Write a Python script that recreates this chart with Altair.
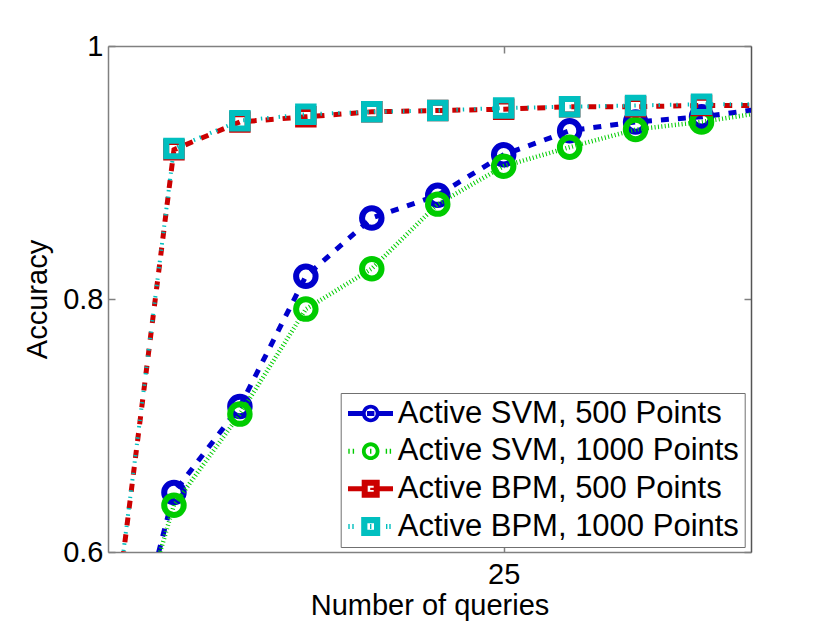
import altair as alt
import pandas as pd

# ---------------- data ----------------
queries = [1, 5, 9, 13, 17, 21, 25, 29, 33, 37, 41]
svm_500 = [0.443, 0.647, 0.715, 0.818, 0.864, 0.882, 0.914, 0.933, 0.940, 0.944, 0.951]
svm_1000 = [0.461, 0.637, 0.709, 0.792, 0.824, 0.875, 0.905, 0.920, 0.934, 0.940, 0.948]
bpm_500 = [0.501, 0.918, 0.940, 0.944, 0.948, 0.949, 0.950, 0.952, 0.952, 0.953, 0.953]
bpm_1000 = [0.503, 0.919, 0.941, 0.946, 0.948, 0.949, 0.951, 0.952, 0.953, 0.954, 0.954]
series_names = [
    "Active SVM, 500 Points",
    "Active SVM, 1000 Points",
    "Active BPM, 500 Points",
    "Active BPM, 1000 Points",
]
x_ticks = [25]
y_ticks = [0.6, 0.8, 1.0]
x_domain = [1, 40]
y_domain = [0.6, 1.0]

# ---------------- styles ----------------
FONT = "Liberation Sans"
AX_GRAY = "#808080"
colors = ["#0000CC", "#00CC00", "#CC0000", "#00BFBF"]
line_widths = [5, 4.5, 5, 4]
line_dashes = [[8, 9], [1, 2.4], [8, 9], [1.4, 5, 1.4, 10]]
marker_shapes = ["circle", "circle", "square", "square"]
marker_sizes = [380, 380, 240, 240]
marker_strokes = [6, 6, 6, 6]

W, H = 643, 506

rows = []
for name, vals in zip(series_names, [svm_500, svm_1000, bpm_500, bpm_1000]):
    for q, v in zip(queries, vals):
        rows.append({"queries": q, "accuracy": v, "series": name})
df = pd.DataFrame(rows)

xs = alt.Scale(domain=x_domain, nice=False, zero=False)
ys = alt.Scale(domain=y_domain, nice=False, zero=False)

# axis sets (MATLAB box with inward ticks)
main_x = alt.Axis(values=x_ticks, orient="bottom", ticks=False, tickSize=0, labelPadding=8,
                  labelFlush=False, title="Number of queries", titlePadding=2)
main_y = alt.Axis(values=y_ticks, orient="left", ticks=False, tickSize=0, labelPadding=5,
                  format="~g", title="Accuracy", titlePadding=10)
inner_bottom = alt.Axis(values=x_ticks, orient="top", offset=-H, labels=False, domain=False,
                        ticks=True, tickSize=7, title=None)
inner_left = alt.Axis(values=y_ticks, orient="right", offset=-W, labels=False, domain=False,
                      ticks=True, tickSize=7, title=None)
top_edge = alt.Axis(values=x_ticks, orient="bottom", offset=-H, labels=False, domain=True,
                    ticks=True, tickSize=7, title=None)
right_edge = alt.Axis(values=y_ticks, orient="left", offset=-W, labels=False, domain=True,
                      ticks=True, tickSize=7, title=None, domainColor="#555555")

axis_sets = [(main_x, main_y), (inner_bottom, inner_left), (top_edge, right_edge)]

layers = []
k = 0
for i, name in enumerate(series_names):
    base = alt.Chart(df).transform_filter(alt.datum.series == name)
    ax = axis_sets[k] if k < len(axis_sets) else (None, None)
    k += 1
    line = base.mark_line(color=colors[i], strokeWidth=line_widths[i], strokeDash=line_dashes[i],
                          clip=True).encode(
        x=alt.X("queries:Q", scale=xs, axis=ax[0]),
        y=alt.Y("accuracy:Q", scale=ys, axis=ax[1]),
    )
    ax = axis_sets[k] if k < len(axis_sets) else (None, None)
    k += 1
    pts = base.mark_point(shape=marker_shapes[i], size=marker_sizes[i], filled=False,
                          color=colors[i], strokeWidth=marker_strokes[i], opacity=1,
                          clip=True).encode(
        x=alt.X("queries:Q", scale=xs, axis=ax[0]),
        y=alt.Y("accuracy:Q", scale=ys, axis=ax[1]),
    )
    layers += [line, pts]

# ---------------- legend symbols (line sample + marker) as filled paths ----------------
LEG_FS = 31
U = LEG_FS / 2.0  # px per unit of a custom symbol path (sqrt(size)/2)


def f(v):
    return f"{v / U:.3f}"


def rect(x0, x1, hh):
    return f"M{f(x0)},{f(-hh)}H{f(x1)}V{f(hh)}H{f(x0)}Z"


def ring_circle(ro, ri):
    return (f"M{f(ro)},0A{f(ro)},{f(ro)} 0 1,1 {f(-ro)},0A{f(ro)},{f(ro)} 0 1,1 {f(ro)},0Z"
            f"M{f(ri)},0A{f(ri)},{f(ri)} 0 1,0 {f(-ri)},0A{f(ri)},{f(ri)} 0 1,0 {f(ri)},0Z")


def ring_square(ao, ai):
    return (f"M{f(-ao)},{f(-ao)}H{f(ao)}V{f(ao)}H{f(-ao)}Z"
            f"M{f(-ai)},{f(-ai)}V{f(ai)}H{f(ai)}V{f(-ai)}Z")


def ticks(xs_):
    return "".join(rect(x - 0.7, x + 0.7, 2.5) for x in xs_)


legend_paths = [
    rect(-22.7, -8, 2.5) + rect(-3.7, 3.7, 2.5) + rect(8, 22.3, 2.5) + ring_circle(8.8, 5),
    ticks([-21.7, -17.3, 0, 15.7, 19.7]) + ring_circle(8.8, 5),
    rect(-22.7, -8, 2.5) + rect(-0.5, 3.2, 1.2) + rect(8, 22.3, 2.5) + ring_square(9, 3),
    ticks([-21.7, -17.7, 0, 16, 19.3]) + ring_square(9.5, 3.3),
]

leg = alt.Legend(
    title=None, orient="none", legendX=232.7, legendY=347, direction="vertical",
    padding=5, fillColor="white", strokeColor="#707070", cornerRadius=0,
    symbolSize=LEG_FS * LEG_FS, symbolStrokeWidth=0, symbolOffset=9.5, symbolOpacity=1,
    labelOffset=11.5, labelFont=FONT, labelFontSize=LEG_FS, labelColor="black",
    labelLimit=0, rowPadding=5.67,
)

legend_df = pd.DataFrame({"series": series_names})
legend_layer = alt.Chart(legend_df).transform_filter("false").mark_point(
    filled=True, opacity=1
).encode(
    shape=alt.Shape("series:N", scale=alt.Scale(domain=series_names, range=legend_paths), legend=leg),
    fill=alt.Fill("series:N", scale=alt.Scale(domain=series_names, range=colors), legend=leg),
)
layers.append(legend_layer)

chart = (
    alt.layer(*layers)
    .resolve_axis(x="independent", y="independent")
    .properties(
        width=W, height=H,
        autosize=alt.AutoSizeParams(type="none"),
        padding={"left": 100, "top": 38, "right": 30, "bottom": 72},
    )
    .configure_view(stroke=None)
    .configure_axis(
        grid=False, labelFont=FONT, labelFontSize=29, labelColor="black",
        titleFont=FONT, titleFontSize=29, titleFontWeight="normal", titleColor="black",
        domainColor=AX_GRAY, domainWidth=1.5, tickColor=AX_GRAY, tickWidth=1.5,
    )
)

chart.save("out.html", embed_options={"renderer": "svg", "actions": False})
